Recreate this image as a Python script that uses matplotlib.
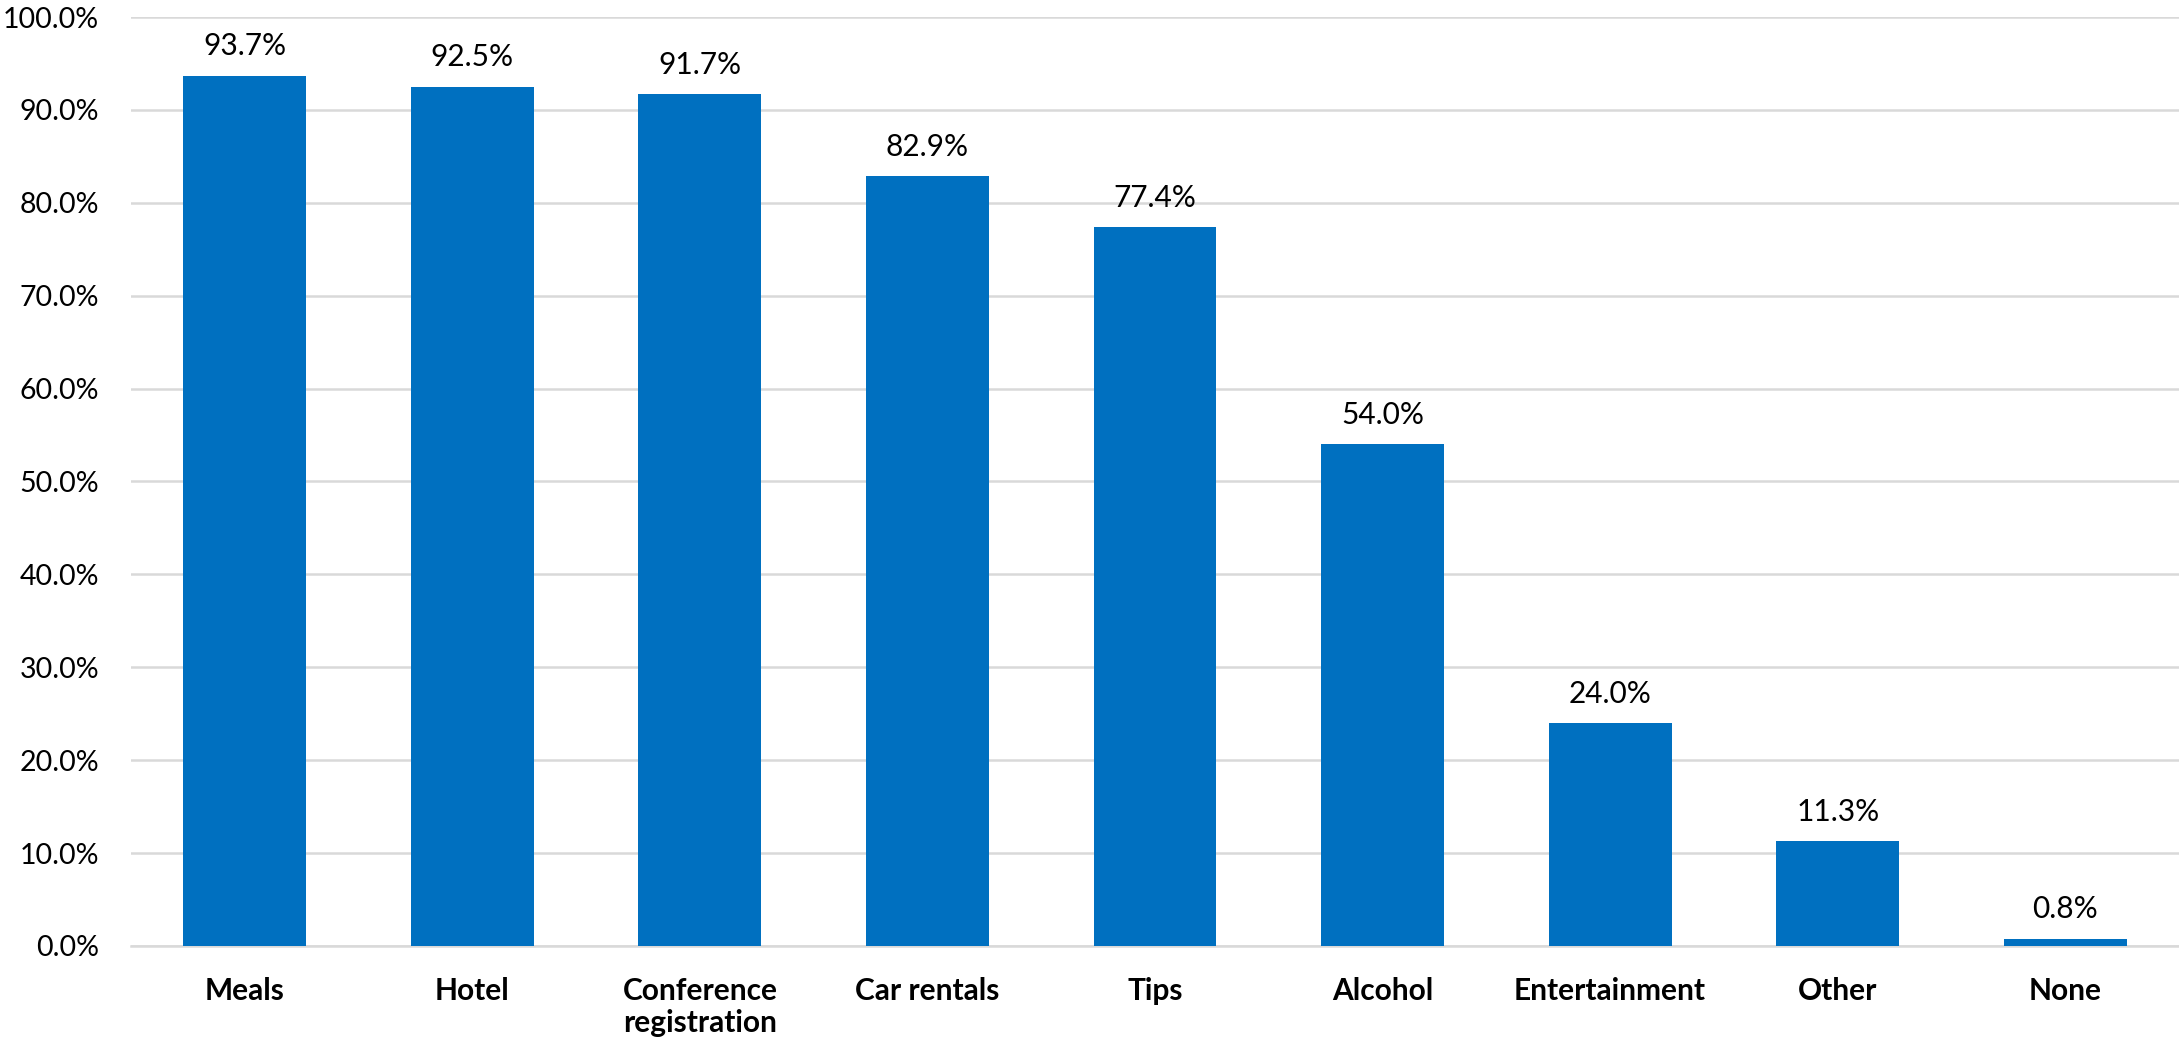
import matplotlib
matplotlib.use("Agg")
import matplotlib.pyplot as plt
import numpy as np

categories = ["Meals", "Hotel", "Conference\nregistration", "Car rentals", "Tips",
              "Alcohol", "Entertainment", "Other", "None"]
values = [93.7, 92.5, 91.7, 82.9, 77.4, 54.0, 24.0, 11.3, 0.8]
yticks = [0, 10, 20, 30, 40, 50, 60, 70, 80, 90, 100]

plt.rcParams['font.family'] = ['Lato', 'DejaVu Sans']

W, H = 2179, 1042
fig = plt.figure(figsize=(W / 100, H / 100), dpi=100)
ax = fig.add_axes([131 / W, 1 - 946 / H, (2179 - 131) / W, (946 - 17) / H])

x = np.arange(len(categories))
bars = ax.bar(x, values, width=0.54, color="#0070C0", zorder=3)

ax.set_xlim(-0.5, len(categories) - 0.5)
ax.set_ylim(0, 100)
ax.set_yticks(yticks)
ax.set_yticklabels([f"{v:.1f}%" for v in yticks], fontsize=20.5, va="center_baseline")
ax.set_xticks(x)
ax.set_xticklabels(categories, fontsize=21.5, fontweight="bold", linespacing=1.2, va="top")
ax.tick_params(axis="both", length=0)
ax.tick_params(axis="y", pad=23)
ax.tick_params(axis="x", pad=22)

ax.grid(axis="y", color="#D9D9D9", linewidth=1.8, zorder=0)
for s in ["top", "right", "left"]:
    ax.spines[s].set_visible(False)
ax.spines["bottom"].set_color("#D9D9D9")
ax.spines["bottom"].set_linewidth(1.8)

for xi, v in zip(x, values):
    ax.annotate(f"{v:.1f}%", (xi, v), xytext=(0, 11), textcoords="offset points",
                ha="center", va="bottom", fontsize=21.5)

fig.savefig("out.png", dpi=100)
